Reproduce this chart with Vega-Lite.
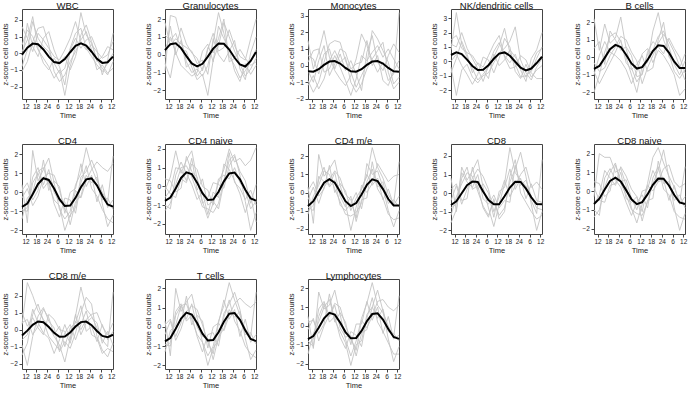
{"$schema":"https://vega.github.io/schema/vega-lite/v6.json","padding":{"left":0,"top":0,"right":0,"bottom":0},"autosize":{"type":"pad"},"config":{"font":"Liberation Sans","view":{"stroke":"#444","strokeWidth":1},"axis":{"grid":false,"domain":false,"tickColor":"#444","tickSize":3,"labelFontSize":6.5,"labelColor":"#222","labelOverlap":false,"titleFontSize":7.5,"titleFontWeight":"normal","titleColor":"#222"}},
"data":{"values":[
{"p":1,"s":0,"t":10,"z":-0.09},{"p":1,"s":0,"t":13,"z":0.33},{"p":1,"s":0,"t":16,"z":0.58},{"p":1,"s":0,"t":19,"z":0.54},{"p":1,"s":0,"t":22,"z":0.23},{"p":1,"s":0,"t":25,"z":-0.2},{"p":1,"s":0,"t":28,"z":-0.53},{"p":1,"s":0,"t":31,"z":-0.59},{"p":1,"s":0,"t":34,"z":-0.35},{"p":1,"s":0,"t":37,"z":0.06},{"p":1,"s":0,"t":40,"z":0.44},{"p":1,"s":0,"t":43,"z":0.6},{"p":1,"s":0,"t":46,"z":0.46},{"p":1,"s":0,"t":49,"z":0.09},{"p":1,"s":0,"t":52,"z":-0.33},{"p":1,"s":0,"t":55,"z":-0.58},{"p":1,"s":0,"t":58,"z":-0.54},{"p":1,"s":0,"t":61,"z":-0.2},
{"p":1,"s":1,"t":10,"z":-0.8},{"p":1,"s":1,"t":13,"z":0.2},{"p":1,"s":1,"t":16,"z":1.9},{"p":1,"s":1,"t":19,"z":0.9},{"p":1,"s":1,"t":22,"z":0.4},{"p":1,"s":1,"t":25,"z":0.1},{"p":1,"s":1,"t":28,"z":-0.6},{"p":1,"s":1,"t":31,"z":-1.2},{"p":1,"s":1,"t":34,"z":-0.9},{"p":1,"s":1,"t":37,"z":0.3},{"p":1,"s":1,"t":40,"z":1.2},{"p":1,"s":1,"t":43,"z":1.5},{"p":1,"s":1,"t":46,"z":0.3},{"p":1,"s":1,"t":49,"z":-0.2},{"p":1,"s":1,"t":52,"z":-0.7},{"p":1,"s":1,"t":55,"z":-1.1},{"p":1,"s":1,"t":58,"z":-0.6},{"p":1,"s":1,"t":61,"z":0.0},
{"p":1,"s":2,"t":10,"z":0.5},{"p":1,"s":2,"t":13,"z":1.4},{"p":1,"s":2,"t":16,"z":1.0},{"p":1,"s":2,"t":19,"z":0.2},{"p":1,"s":2,"t":22,"z":-0.3},{"p":1,"s":2,"t":25,"z":-0.8},{"p":1,"s":2,"t":28,"z":-1.5},{"p":1,"s":2,"t":31,"z":-1.0},{"p":1,"s":2,"t":34,"z":-2.53},{"p":1,"s":2,"t":37,"z":-0.8},{"p":1,"s":2,"t":40,"z":0.4},{"p":1,"s":2,"t":43,"z":2.44},{"p":1,"s":2,"t":46,"z":1.1},{"p":1,"s":2,"t":49,"z":0.6},{"p":1,"s":2,"t":52,"z":-0.4},{"p":1,"s":2,"t":55,"z":-0.9},{"p":1,"s":2,"t":58,"z":-1.3},{"p":1,"s":2,"t":61,"z":-0.5},
{"p":1,"s":3,"t":10,"z":1.6},{"p":1,"s":3,"t":13,"z":0.9},{"p":1,"s":3,"t":16,"z":0.1},{"p":1,"s":3,"t":19,"z":1.2},{"p":1,"s":3,"t":22,"z":0.8},{"p":1,"s":3,"t":25,"z":0.3},{"p":1,"s":3,"t":28,"z":-0.2},{"p":1,"s":3,"t":31,"z":-0.4},{"p":1,"s":3,"t":34,"z":0.2},{"p":1,"s":3,"t":37,"z":0.9},{"p":1,"s":3,"t":40,"z":1.9},{"p":1,"s":3,"t":43,"z":0.7},{"p":1,"s":3,"t":46,"z":0.2},{"p":1,"s":3,"t":49,"z":0.5},{"p":1,"s":3,"t":52,"z":0.1},{"p":1,"s":3,"t":55,"z":-0.3},{"p":1,"s":3,"t":58,"z":-0.1},{"p":1,"s":3,"t":61,"z":0.7},
{"p":1,"s":4,"t":10,"z":-1.1},{"p":1,"s":4,"t":13,"z":-0.5},{"p":1,"s":4,"t":16,"z":0.7},{"p":1,"s":4,"t":19,"z":1.5},{"p":1,"s":4,"t":22,"z":1.6},{"p":1,"s":4,"t":25,"z":0.5},{"p":1,"s":4,"t":28,"z":-1.1},{"p":1,"s":4,"t":31,"z":-1.7},{"p":1,"s":4,"t":34,"z":-1.3},{"p":1,"s":4,"t":37,"z":-0.5},{"p":1,"s":4,"t":40,"z":0.1},{"p":1,"s":4,"t":43,"z":0.8},{"p":1,"s":4,"t":46,"z":1.3},{"p":1,"s":4,"t":49,"z":0.2},{"p":1,"s":4,"t":52,"z":-1.0},{"p":1,"s":4,"t":55,"z":-0.7},{"p":1,"s":4,"t":58,"z":-1.2},{"p":1,"s":4,"t":61,"z":-0.9},
{"p":1,"s":5,"t":10,"z":0.1},{"p":1,"s":5,"t":13,"z":0.8},{"p":1,"s":5,"t":16,"z":2.2},{"p":1,"s":5,"t":19,"z":0.3},{"p":1,"s":5,"t":22,"z":-0.6},{"p":1,"s":5,"t":25,"z":-1.0},{"p":1,"s":5,"t":28,"z":-0.3},{"p":1,"s":5,"t":31,"z":-0.8},{"p":1,"s":5,"t":34,"z":-1.9},{"p":1,"s":5,"t":37,"z":0.2},{"p":1,"s":5,"t":40,"z":0.9},{"p":1,"s":5,"t":43,"z":0.3},{"p":1,"s":5,"t":46,"z":0.8},{"p":1,"s":5,"t":49,"z":1.0},{"p":1,"s":5,"t":52,"z":0.2},{"p":1,"s":5,"t":55,"z":-1.3},{"p":1,"s":5,"t":58,"z":-0.4},{"p":1,"s":5,"t":61,"z":1.2},
{"p":1,"s":6,"t":10,"z":-0.4},{"p":1,"s":6,"t":13,"z":1.8},{"p":1,"s":6,"t":16,"z":0.4},{"p":1,"s":6,"t":19,"z":-0.2},{"p":1,"s":6,"t":22,"z":0.9},{"p":1,"s":6,"t":25,"z":1.3},{"p":1,"s":6,"t":28,"z":0.2},{"p":1,"s":6,"t":31,"z":-0.6},{"p":1,"s":6,"t":34,"z":-0.2},{"p":1,"s":6,"t":37,"z":-1.0},{"p":1,"s":6,"t":40,"z":-0.2},{"p":1,"s":6,"t":43,"z":1.1},{"p":1,"s":6,"t":46,"z":1.7},{"p":1,"s":6,"t":49,"z":0.7},{"p":1,"s":6,"t":52,"z":-0.5},{"p":1,"s":6,"t":55,"z":-0.2},{"p":1,"s":6,"t":58,"z":0.4},{"p":1,"s":6,"t":61,"z":0.2},
{"p":2,"s":0,"t":10,"z":0.26},{"p":2,"s":0,"t":13,"z":0.59},{"p":2,"s":0,"t":16,"z":0.64},{"p":2,"s":0,"t":19,"z":0.37},{"p":2,"s":0,"t":22,"z":-0.08},{"p":2,"s":0,"t":25,"z":-0.49},{"p":2,"s":0,"t":28,"z":-0.66},{"p":2,"s":0,"t":31,"z":-0.51},{"p":2,"s":0,"t":34,"z":-0.11},{"p":2,"s":0,"t":37,"z":0.34},{"p":2,"s":0,"t":40,"z":0.63},{"p":2,"s":0,"t":43,"z":0.61},{"p":2,"s":0,"t":46,"z":0.29},{"p":2,"s":0,"t":49,"z":-0.17},{"p":2,"s":0,"t":52,"z":-0.55},{"p":2,"s":0,"t":55,"z":-0.66},{"p":2,"s":0,"t":58,"z":-0.35},{"p":2,"s":0,"t":61,"z":0.15},
{"p":2,"s":1,"t":10,"z":-0.9},{"p":2,"s":1,"t":13,"z":2.2},{"p":2,"s":1,"t":16,"z":2.1},{"p":2,"s":1,"t":19,"z":0.9},{"p":2,"s":1,"t":22,"z":-0.4},{"p":2,"s":1,"t":25,"z":-1.0},{"p":2,"s":1,"t":28,"z":-0.8},{"p":2,"s":1,"t":31,"z":-1.2},{"p":2,"s":1,"t":34,"z":-0.6},{"p":2,"s":1,"t":37,"z":0.7},{"p":2,"s":1,"t":40,"z":2.36},{"p":2,"s":1,"t":43,"z":1.2},{"p":2,"s":1,"t":46,"z":-0.1},{"p":2,"s":1,"t":49,"z":-0.6},{"p":2,"s":1,"t":52,"z":-1.3},{"p":2,"s":1,"t":55,"z":-0.9},{"p":2,"s":1,"t":58,"z":-0.4},{"p":2,"s":1,"t":61,"z":0.3},
{"p":2,"s":2,"t":10,"z":1.1},{"p":2,"s":2,"t":13,"z":0.8},{"p":2,"s":2,"t":16,"z":1.2},{"p":2,"s":2,"t":19,"z":0.3},{"p":2,"s":2,"t":22,"z":0.2},{"p":2,"s":2,"t":25,"z":-0.7},{"p":2,"s":2,"t":28,"z":-1.4},{"p":2,"s":2,"t":31,"z":-1.1},{"p":2,"s":2,"t":34,"z":-2.28},{"p":2,"s":2,"t":37,"z":-0.3},{"p":2,"s":2,"t":40,"z":0.5},{"p":2,"s":2,"t":43,"z":1.8},{"p":2,"s":2,"t":46,"z":1.0},{"p":2,"s":2,"t":49,"z":0.2},{"p":2,"s":2,"t":52,"z":-0.5},{"p":2,"s":2,"t":55,"z":-1.2},{"p":2,"s":2,"t":58,"z":-0.8},{"p":2,"s":2,"t":61,"z":-0.2},
{"p":2,"s":3,"t":10,"z":-0.5},{"p":2,"s":3,"t":13,"z":-1.3},{"p":2,"s":3,"t":16,"z":0.4},{"p":2,"s":3,"t":19,"z":1.5},{"p":2,"s":3,"t":22,"z":0.6},{"p":2,"s":3,"t":25,"z":0.1},{"p":2,"s":3,"t":28,"z":-0.2},{"p":2,"s":3,"t":31,"z":-0.9},{"p":2,"s":3,"t":34,"z":0.3},{"p":2,"s":3,"t":37,"z":1.2},{"p":2,"s":3,"t":40,"z":0.2},{"p":2,"s":3,"t":43,"z":0.4},{"p":2,"s":3,"t":46,"z":1.4},{"p":2,"s":3,"t":49,"z":0.5},{"p":2,"s":3,"t":52,"z":-0.1},{"p":2,"s":3,"t":55,"z":-0.3},{"p":2,"s":3,"t":58,"z":0.9},{"p":2,"s":3,"t":61,"z":2.0},
{"p":2,"s":4,"t":10,"z":0.3},{"p":2,"s":4,"t":13,"z":1.0},{"p":2,"s":4,"t":16,"z":0.1},{"p":2,"s":4,"t":19,"z":-0.6},{"p":2,"s":4,"t":22,"z":-0.9},{"p":2,"s":4,"t":25,"z":-1.2},{"p":2,"s":4,"t":28,"z":-1.0},{"p":2,"s":4,"t":31,"z":0.2},{"p":2,"s":4,"t":34,"z":0.6},{"p":2,"s":4,"t":37,"z":-0.4},{"p":2,"s":4,"t":40,"z":1.6},{"p":2,"s":4,"t":43,"z":0.9},{"p":2,"s":4,"t":46,"z":0.3},{"p":2,"s":4,"t":49,"z":-0.9},{"p":2,"s":4,"t":52,"z":-1.5},{"p":2,"s":4,"t":55,"z":-0.5},{"p":2,"s":4,"t":58,"z":-1.1},{"p":2,"s":4,"t":61,"z":-0.6},
{"p":2,"s":5,"t":10,"z":1.8},{"p":2,"s":5,"t":13,"z":0.5},{"p":2,"s":5,"t":16,"z":0.9},{"p":2,"s":5,"t":19,"z":0.6},{"p":2,"s":5,"t":22,"z":0.4},{"p":2,"s":5,"t":25,"z":0.2},{"p":2,"s":5,"t":28,"z":-0.5},{"p":2,"s":5,"t":31,"z":-0.3},{"p":2,"s":5,"t":34,"z":-1.1},{"p":2,"s":5,"t":37,"z":0.9},{"p":2,"s":5,"t":40,"z":0.0},{"p":2,"s":5,"t":43,"z":-0.4},{"p":2,"s":5,"t":46,"z":0.2},{"p":2,"s":5,"t":49,"z":0.8},{"p":2,"s":5,"t":52,"z":-0.8},{"p":2,"s":5,"t":55,"z":-1.4},{"p":2,"s":5,"t":58,"z":0.1},{"p":2,"s":5,"t":61,"z":1.0},
{"p":2,"s":6,"t":10,"z":-0.2},{"p":2,"s":6,"t":13,"z":1.6},{"p":2,"s":6,"t":16,"z":0.0},{"p":2,"s":6,"t":19,"z":0.8},{"p":2,"s":6,"t":22,"z":-0.7},{"p":2,"s":6,"t":25,"z":-0.4},{"p":2,"s":6,"t":28,"z":-1.2},{"p":2,"s":6,"t":31,"z":-0.8},{"p":2,"s":6,"t":34,"z":0.4},{"p":2,"s":6,"t":37,"z":0.1},{"p":2,"s":6,"t":40,"z":0.9},{"p":2,"s":6,"t":43,"z":2.0},{"p":2,"s":6,"t":46,"z":-0.4},{"p":2,"s":6,"t":49,"z":-0.2},{"p":2,"s":6,"t":52,"z":0.3},{"p":2,"s":6,"t":55,"z":-0.2},{"p":2,"s":6,"t":58,"z":-0.6},{"p":2,"s":6,"t":61,"z":-0.4},
{"p":3,"s":0,"t":10,"z":-0.34},{"p":3,"s":0,"t":13,"z":-0.37},{"p":3,"s":0,"t":16,"z":-0.22},{"p":3,"s":0,"t":19,"z":0.04},{"p":3,"s":0,"t":22,"z":0.24},{"p":3,"s":0,"t":25,"z":0.27},{"p":3,"s":0,"t":28,"z":0.12},{"p":3,"s":0,"t":31,"z":-0.14},{"p":3,"s":0,"t":34,"z":-0.34},{"p":3,"s":0,"t":37,"z":-0.37},{"p":3,"s":0,"t":40,"z":-0.22},{"p":3,"s":0,"t":43,"z":0.04},{"p":3,"s":0,"t":46,"z":0.24},{"p":3,"s":0,"t":49,"z":0.27},{"p":3,"s":0,"t":52,"z":0.12},{"p":3,"s":0,"t":55,"z":-0.14},{"p":3,"s":0,"t":58,"z":-0.34},{"p":3,"s":0,"t":61,"z":-0.37},
{"p":3,"s":1,"t":10,"z":1.5},{"p":3,"s":1,"t":13,"z":-0.2},{"p":3,"s":1,"t":16,"z":0.8},{"p":3,"s":1,"t":19,"z":2.1},{"p":3,"s":1,"t":22,"z":0.5},{"p":3,"s":1,"t":25,"z":-0.3},{"p":3,"s":1,"t":28,"z":-0.8},{"p":3,"s":1,"t":31,"z":-1.2},{"p":3,"s":1,"t":34,"z":-0.6},{"p":3,"s":1,"t":37,"z":0.4},{"p":3,"s":1,"t":40,"z":1.9},{"p":3,"s":1,"t":43,"z":1.2},{"p":3,"s":1,"t":46,"z":0.3},{"p":3,"s":1,"t":49,"z":-0.4},{"p":3,"s":1,"t":52,"z":0.2},{"p":3,"s":1,"t":55,"z":-0.9},{"p":3,"s":1,"t":58,"z":-0.5},{"p":3,"s":1,"t":61,"z":3.18},
{"p":3,"s":2,"t":10,"z":-0.9},{"p":3,"s":2,"t":13,"z":-1.6},{"p":3,"s":2,"t":16,"z":-1.0},{"p":3,"s":2,"t":19,"z":0.2},{"p":3,"s":2,"t":22,"z":1.3},{"p":3,"s":2,"t":25,"z":1.5},{"p":3,"s":2,"t":28,"z":1.4},{"p":3,"s":2,"t":31,"z":0.3},{"p":3,"s":2,"t":34,"z":-0.4},{"p":3,"s":2,"t":37,"z":-1.3},{"p":3,"s":2,"t":40,"z":-0.6},{"p":3,"s":2,"t":43,"z":0.1},{"p":3,"s":2,"t":46,"z":2.1},{"p":3,"s":2,"t":49,"z":1.6},{"p":3,"s":2,"t":52,"z":0.9},{"p":3,"s":2,"t":55,"z":0.2},{"p":3,"s":2,"t":58,"z":-1.1},{"p":3,"s":2,"t":61,"z":-0.7},
{"p":3,"s":3,"t":10,"z":0.2},{"p":3,"s":3,"t":13,"z":0.9},{"p":3,"s":3,"t":16,"z":1.0},{"p":3,"s":3,"t":19,"z":-0.4},{"p":3,"s":3,"t":22,"z":-0.2},{"p":3,"s":3,"t":25,"z":0.6},{"p":3,"s":3,"t":28,"z":-0.1},{"p":3,"s":3,"t":31,"z":-0.9},{"p":3,"s":3,"t":34,"z":-1.79},{"p":3,"s":3,"t":37,"z":-0.8},{"p":3,"s":3,"t":40,"z":0.6},{"p":3,"s":3,"t":43,"z":0.3},{"p":3,"s":3,"t":46,"z":0.8},{"p":3,"s":3,"t":49,"z":1.2},{"p":3,"s":3,"t":52,"z":0.5},{"p":3,"s":3,"t":55,"z":1.0},{"p":3,"s":3,"t":58,"z":0.4},{"p":3,"s":3,"t":61,"z":-0.2},
{"p":3,"s":4,"t":10,"z":-1.2},{"p":3,"s":4,"t":13,"z":-0.6},{"p":3,"s":4,"t":16,"z":-1.4},{"p":3,"s":4,"t":19,"z":-0.8},{"p":3,"s":4,"t":22,"z":0.3},{"p":3,"s":4,"t":25,"z":0.9},{"p":3,"s":4,"t":28,"z":0.2},{"p":3,"s":4,"t":31,"z":0.5},{"p":3,"s":4,"t":34,"z":-1.0},{"p":3,"s":4,"t":37,"z":-1.6},{"p":3,"s":4,"t":40,"z":-1.1},{"p":3,"s":4,"t":43,"z":-0.2},{"p":3,"s":4,"t":46,"z":0.4},{"p":3,"s":4,"t":49,"z":0.9},{"p":3,"s":4,"t":52,"z":1.4},{"p":3,"s":4,"t":55,"z":-0.4},{"p":3,"s":4,"t":58,"z":-1.4},{"p":3,"s":4,"t":61,"z":-1.0},
{"p":3,"s":5,"t":10,"z":0.6},{"p":3,"s":5,"t":13,"z":0.4},{"p":3,"s":5,"t":16,"z":-0.5},{"p":3,"s":5,"t":19,"z":0.7},{"p":3,"s":5,"t":22,"z":1.0},{"p":3,"s":5,"t":25,"z":-0.2},{"p":3,"s":5,"t":28,"z":0.7},{"p":3,"s":5,"t":31,"z":-0.3},{"p":3,"s":5,"t":34,"z":0.3},{"p":3,"s":5,"t":37,"z":-0.5},{"p":3,"s":5,"t":40,"z":-1.5},{"p":3,"s":5,"t":43,"z":0.8},{"p":3,"s":5,"t":46,"z":1.8},{"p":3,"s":5,"t":49,"z":0.2},{"p":3,"s":5,"t":52,"z":-0.3},{"p":3,"s":5,"t":55,"z":0.6},{"p":3,"s":5,"t":58,"z":1.3},{"p":3,"s":5,"t":61,"z":0.8},
{"p":3,"s":6,"t":10,"z":-0.3},{"p":3,"s":6,"t":13,"z":-1.0},{"p":3,"s":6,"t":16,"z":0.3},{"p":3,"s":6,"t":19,"z":1.2},{"p":3,"s":6,"t":22,"z":-0.6},{"p":3,"s":6,"t":25,"z":0.1},{"p":3,"s":6,"t":28,"z":1.0},{"p":3,"s":6,"t":31,"z":0.8},{"p":3,"s":6,"t":34,"z":-0.2},{"p":3,"s":6,"t":37,"z":0.1},{"p":3,"s":6,"t":40,"z":0.2},{"p":3,"s":6,"t":43,"z":1.5},{"p":3,"s":6,"t":46,"z":0.0},{"p":3,"s":6,"t":49,"z":0.6},{"p":3,"s":6,"t":52,"z":-0.9},{"p":3,"s":6,"t":55,"z":-1.2},{"p":3,"s":6,"t":58,"z":-0.3},{"p":3,"s":6,"t":61,"z":0.3},
{"p":4,"s":0,"t":10,"z":0.44},{"p":4,"s":0,"t":13,"z":0.63},{"p":4,"s":0,"t":16,"z":0.5},{"p":4,"s":0,"t":19,"z":0.12},{"p":4,"s":0,"t":22,"z":-0.32},{"p":4,"s":0,"t":25,"z":-0.6},{"p":4,"s":0,"t":28,"z":-0.58},{"p":4,"s":0,"t":31,"z":-0.27},{"p":4,"s":0,"t":34,"z":0.18},{"p":4,"s":0,"t":37,"z":0.54},{"p":4,"s":0,"t":40,"z":0.62},{"p":4,"s":0,"t":43,"z":0.39},{"p":4,"s":0,"t":46,"z":-0.03},{"p":4,"s":0,"t":49,"z":-0.44},{"p":4,"s":0,"t":52,"z":-0.63},{"p":4,"s":0,"t":55,"z":-0.5},{"p":4,"s":0,"t":58,"z":-0.12},{"p":4,"s":0,"t":61,"z":0.32},
{"p":4,"s":1,"t":10,"z":0.8},{"p":4,"s":1,"t":13,"z":3.39},{"p":4,"s":1,"t":16,"z":1.2},{"p":4,"s":1,"t":19,"z":0.3},{"p":4,"s":1,"t":22,"z":-0.5},{"p":4,"s":1,"t":25,"z":-1.3},{"p":4,"s":1,"t":28,"z":-0.9},{"p":4,"s":1,"t":31,"z":-0.4},{"p":4,"s":1,"t":34,"z":0.3},{"p":4,"s":1,"t":37,"z":1.1},{"p":4,"s":1,"t":40,"z":2.3},{"p":4,"s":1,"t":43,"z":0.6},{"p":4,"s":1,"t":46,"z":-0.2},{"p":4,"s":1,"t":49,"z":-1.1},{"p":4,"s":1,"t":52,"z":-1.0},{"p":4,"s":1,"t":55,"z":-0.7},{"p":4,"s":1,"t":58,"z":0.2},{"p":4,"s":1,"t":61,"z":1.0},
{"p":4,"s":2,"t":10,"z":-0.4},{"p":4,"s":2,"t":13,"z":-2.37},{"p":4,"s":2,"t":16,"z":-0.6},{"p":4,"s":2,"t":19,"z":-0.2},{"p":4,"s":2,"t":22,"z":-1.1},{"p":4,"s":2,"t":25,"z":-1.5},{"p":4,"s":2,"t":28,"z":-1.0},{"p":4,"s":2,"t":31,"z":-0.8},{"p":4,"s":2,"t":34,"z":-0.1},{"p":4,"s":2,"t":37,"z":0.6},{"p":4,"s":2,"t":40,"z":0.9},{"p":4,"s":2,"t":43,"z":1.4},{"p":4,"s":2,"t":46,"z":2.4},{"p":4,"s":2,"t":49,"z":0.1},{"p":4,"s":2,"t":52,"z":-0.8},{"p":4,"s":2,"t":55,"z":-1.3},{"p":4,"s":2,"t":58,"z":-0.4},{"p":4,"s":2,"t":61,"z":0.2},
{"p":4,"s":3,"t":10,"z":1.2},{"p":4,"s":3,"t":13,"z":1.0},{"p":4,"s":3,"t":16,"z":2.0},{"p":4,"s":3,"t":19,"z":0.9},{"p":4,"s":3,"t":22,"z":0.2},{"p":4,"s":3,"t":25,"z":-0.5},{"p":4,"s":3,"t":28,"z":-1.4},{"p":4,"s":3,"t":31,"z":-0.3},{"p":4,"s":3,"t":34,"z":0.7},{"p":4,"s":3,"t":37,"z":1.3},{"p":4,"s":3,"t":40,"z":0.4},{"p":4,"s":3,"t":43,"z":-0.1},{"p":4,"s":3,"t":46,"z":0.5},{"p":4,"s":3,"t":49,"z":-0.6},{"p":4,"s":3,"t":52,"z":-1.4},{"p":4,"s":3,"t":55,"z":0.2},{"p":4,"s":3,"t":58,"z":0.8},{"p":4,"s":3,"t":61,"z":2.0},
{"p":4,"s":4,"t":10,"z":0.0},{"p":4,"s":4,"t":13,"z":0.5},{"p":4,"s":4,"t":16,"z":-0.3},{"p":4,"s":4,"t":19,"z":-0.9},{"p":4,"s":4,"t":22,"z":-1.6},{"p":4,"s":4,"t":25,"z":-0.9},{"p":4,"s":4,"t":28,"z":0.3},{"p":4,"s":4,"t":31,"z":0.1},{"p":4,"s":4,"t":34,"z":-0.8},{"p":4,"s":4,"t":37,"z":0.2},{"p":4,"s":4,"t":40,"z":1.6},{"p":4,"s":4,"t":43,"z":1.0},{"p":4,"s":4,"t":46,"z":-0.7},{"p":4,"s":4,"t":49,"z":-1.2},{"p":4,"s":4,"t":52,"z":-0.2},{"p":4,"s":4,"t":55,"z":-1.1},{"p":4,"s":4,"t":58,"z":-0.6},{"p":4,"s":4,"t":61,"z":-0.3},
{"p":4,"s":5,"t":10,"z":1.5},{"p":4,"s":5,"t":13,"z":1.8},{"p":4,"s":5,"t":16,"z":0.9},{"p":4,"s":5,"t":19,"z":0.6},{"p":4,"s":5,"t":22,"z":0.4},{"p":4,"s":5,"t":25,"z":-0.2},{"p":4,"s":5,"t":28,"z":-0.6},{"p":4,"s":5,"t":31,"z":-1.2},{"p":4,"s":5,"t":34,"z":0.5},{"p":4,"s":5,"t":37,"z":-0.3},{"p":4,"s":5,"t":40,"z":0.1},{"p":4,"s":5,"t":43,"z":0.8},{"p":4,"s":5,"t":46,"z":0.3},{"p":4,"s":5,"t":49,"z":-0.3},{"p":4,"s":5,"t":52,"z":-1.1},{"p":4,"s":5,"t":55,"z":-0.4},{"p":4,"s":5,"t":58,"z":0.6},{"p":4,"s":5,"t":61,"z":0.9},
{"p":4,"s":6,"t":10,"z":-0.8},{"p":4,"s":6,"t":13,"z":0.2},{"p":4,"s":6,"t":16,"z":1.4},{"p":4,"s":6,"t":19,"z":0.5},{"p":4,"s":6,"t":22,"z":-0.8},{"p":4,"s":6,"t":25,"z":-0.1},{"p":4,"s":6,"t":28,"z":-0.4},{"p":4,"s":6,"t":31,"z":0.4},{"p":4,"s":6,"t":34,"z":1.2},{"p":4,"s":6,"t":37,"z":1.8},{"p":4,"s":6,"t":40,"z":0.3},{"p":4,"s":6,"t":43,"z":-0.5},{"p":4,"s":6,"t":46,"z":-0.4},{"p":4,"s":6,"t":49,"z":0.4},{"p":4,"s":6,"t":52,"z":0.1},{"p":4,"s":6,"t":55,"z":-0.8},{"p":4,"s":6,"t":58,"z":-1.2},{"p":4,"s":6,"t":61,"z":-1.2},
{"p":5,"s":0,"t":10,"z":-0.66},{"p":5,"s":0,"t":13,"z":-0.49},{"p":5,"s":0,"t":16,"z":-0.03},{"p":5,"s":0,"t":19,"z":0.46},{"p":5,"s":0,"t":22,"z":0.71},{"p":5,"s":0,"t":25,"z":0.59},{"p":5,"s":0,"t":28,"z":0.15},{"p":5,"s":0,"t":31,"z":-0.35},{"p":5,"s":0,"t":34,"z":-0.64},{"p":5,"s":0,"t":37,"z":-0.56},{"p":5,"s":0,"t":40,"z":-0.15},{"p":5,"s":0,"t":43,"z":0.36},{"p":5,"s":0,"t":46,"z":0.69},{"p":5,"s":0,"t":49,"z":0.65},{"p":5,"s":0,"t":52,"z":0.27},{"p":5,"s":0,"t":55,"z":-0.25},{"p":5,"s":0,"t":58,"z":-0.61},{"p":5,"s":0,"t":61,"z":-0.61},
{"p":5,"s":1,"t":10,"z":2.2},{"p":5,"s":1,"t":13,"z":0.4},{"p":5,"s":1,"t":16,"z":1.9},{"p":5,"s":1,"t":19,"z":0.8},{"p":5,"s":1,"t":22,"z":1.1},{"p":5,"s":1,"t":25,"z":2.3},{"p":5,"s":1,"t":28,"z":0.5},{"p":5,"s":1,"t":31,"z":-0.6},{"p":5,"s":1,"t":34,"z":-1.4},{"p":5,"s":1,"t":37,"z":-0.9},{"p":5,"s":1,"t":40,"z":0.2},{"p":5,"s":1,"t":43,"z":0.4},{"p":5,"s":1,"t":46,"z":1.2},{"p":5,"s":1,"t":49,"z":1.5},{"p":5,"s":1,"t":52,"z":0.6},{"p":5,"s":1,"t":55,"z":-0.4},{"p":5,"s":1,"t":58,"z":-1.0},{"p":5,"s":1,"t":61,"z":-0.2},
{"p":5,"s":2,"t":10,"z":-2.0},{"p":5,"s":2,"t":13,"z":-1.0},{"p":5,"s":2,"t":16,"z":0.3},{"p":5,"s":2,"t":19,"z":1.2},{"p":5,"s":2,"t":22,"z":1.4},{"p":5,"s":2,"t":25,"z":0.9},{"p":5,"s":2,"t":28,"z":0.0},{"p":5,"s":2,"t":31,"z":-1.0},{"p":5,"s":2,"t":34,"z":-2.0},{"p":5,"s":2,"t":37,"z":-0.5},{"p":5,"s":2,"t":40,"z":-0.3},{"p":5,"s":2,"t":43,"z":1.5},{"p":5,"s":2,"t":46,"z":2.55},{"p":5,"s":2,"t":49,"z":1.0},{"p":5,"s":2,"t":52,"z":0.2},{"p":5,"s":2,"t":55,"z":-0.8},{"p":5,"s":2,"t":58,"z":-1.2},{"p":5,"s":2,"t":61,"z":-0.7},
{"p":5,"s":3,"t":10,"z":-0.3},{"p":5,"s":3,"t":13,"z":-0.8},{"p":5,"s":3,"t":16,"z":-0.6},{"p":5,"s":3,"t":19,"z":0.1},{"p":5,"s":3,"t":22,"z":0.6},{"p":5,"s":3,"t":25,"z":1.2},{"p":5,"s":3,"t":28,"z":1.0},{"p":5,"s":3,"t":31,"z":0.3},{"p":5,"s":3,"t":34,"z":-0.2},{"p":5,"s":3,"t":37,"z":-1.5},{"p":5,"s":3,"t":40,"z":-0.6},{"p":5,"s":3,"t":43,"z":0.1},{"p":5,"s":3,"t":46,"z":0.8},{"p":5,"s":3,"t":49,"z":1.3},{"p":5,"s":3,"t":52,"z":0.9},{"p":5,"s":3,"t":55,"z":0.3},{"p":5,"s":3,"t":58,"z":-0.5},{"p":5,"s":3,"t":61,"z":-1.3},
{"p":5,"s":4,"t":10,"z":-1.0},{"p":5,"s":4,"t":13,"z":0.1},{"p":5,"s":4,"t":16,"z":0.9},{"p":5,"s":4,"t":19,"z":0.3},{"p":5,"s":4,"t":22,"z":0.1},{"p":5,"s":4,"t":25,"z":-0.2},{"p":5,"s":4,"t":28,"z":-0.7},{"p":5,"s":4,"t":31,"z":-1.5},{"p":5,"s":4,"t":34,"z":-0.8},{"p":5,"s":4,"t":37,"z":0.2},{"p":5,"s":4,"t":40,"z":0.5},{"p":5,"s":4,"t":43,"z":-0.3},{"p":5,"s":4,"t":46,"z":0.4},{"p":5,"s":4,"t":49,"z":0.1},{"p":5,"s":4,"t":52,"z":-0.4},{"p":5,"s":4,"t":55,"z":-1.0},{"p":5,"s":4,"t":58,"z":-2.17},{"p":5,"s":4,"t":61,"z":-1.8},
{"p":5,"s":5,"t":10,"z":0.5},{"p":5,"s":5,"t":13,"z":0.9},{"p":5,"s":5,"t":16,"z":-0.4},{"p":5,"s":5,"t":19,"z":1.5},{"p":5,"s":5,"t":22,"z":1.0},{"p":5,"s":5,"t":25,"z":0.4},{"p":5,"s":5,"t":28,"z":0.6},{"p":5,"s":5,"t":31,"z":0.1},{"p":5,"s":5,"t":34,"z":-1.1},{"p":5,"s":5,"t":37,"z":-1.0},{"p":5,"s":5,"t":40,"z":0.3},{"p":5,"s":5,"t":43,"z":0.9},{"p":5,"s":5,"t":46,"z":0.6},{"p":5,"s":5,"t":49,"z":0.2},{"p":5,"s":5,"t":52,"z":1.1},{"p":5,"s":5,"t":55,"z":0.5},{"p":5,"s":5,"t":58,"z":0.0},{"p":5,"s":5,"t":61,"z":-0.9},
{"p":5,"s":6,"t":10,"z":-0.8},{"p":5,"s":6,"t":13,"z":-1.5},{"p":5,"s":6,"t":16,"z":-0.9},{"p":5,"s":6,"t":19,"z":-0.3},{"p":5,"s":6,"t":22,"z":0.3},{"p":5,"s":6,"t":25,"z":1.0},{"p":5,"s":6,"t":28,"z":-0.3},{"p":5,"s":6,"t":31,"z":-0.7},{"p":5,"s":6,"t":34,"z":-0.4},{"p":5,"s":6,"t":37,"z":0.1},{"p":5,"s":6,"t":40,"z":-0.8},{"p":5,"s":6,"t":43,"z":-0.6},{"p":5,"s":6,"t":46,"z":1.0},{"p":5,"s":6,"t":49,"z":2.0},{"p":5,"s":6,"t":52,"z":0.0},{"p":5,"s":6,"t":55,"z":-0.3},{"p":5,"s":6,"t":58,"z":-0.6},{"p":5,"s":6,"t":61,"z":0.2},
{"p":6,"s":0,"t":10,"z":-0.76},{"p":6,"s":0,"t":13,"z":-0.59},{"p":6,"s":0,"t":16,"z":-0.1},{"p":6,"s":0,"t":19,"z":0.44},{"p":6,"s":0,"t":22,"z":0.74},{"p":6,"s":0,"t":25,"z":0.65},{"p":6,"s":0,"t":28,"z":0.2},{"p":6,"s":0,"t":31,"z":-0.36},{"p":6,"s":0,"t":34,"z":-0.72},{"p":6,"s":0,"t":37,"z":-0.69},{"p":6,"s":0,"t":40,"z":-0.29},{"p":6,"s":0,"t":43,"z":0.27},{"p":6,"s":0,"t":46,"z":0.68},{"p":6,"s":0,"t":49,"z":0.73},{"p":6,"s":0,"t":52,"z":0.37},{"p":6,"s":0,"t":55,"z":-0.18},{"p":6,"s":0,"t":58,"z":-0.64},{"p":6,"s":0,"t":61,"z":-0.75},
{"p":6,"s":1,"t":10,"z":0.4},{"p":6,"s":1,"t":13,"z":-1.6},{"p":6,"s":1,"t":16,"z":2.2},{"p":6,"s":1,"t":19,"z":0.6},{"p":6,"s":1,"t":22,"z":1.2},{"p":6,"s":1,"t":25,"z":1.8},{"p":6,"s":1,"t":28,"z":0.5},{"p":6,"s":1,"t":31,"z":-0.9},{"p":6,"s":1,"t":34,"z":-1.4},{"p":6,"s":1,"t":37,"z":-1.0},{"p":6,"s":1,"t":40,"z":0.4},{"p":6,"s":1,"t":43,"z":1.0},{"p":6,"s":1,"t":46,"z":2.35},{"p":6,"s":1,"t":49,"z":1.3},{"p":6,"s":1,"t":52,"z":0.6},{"p":6,"s":1,"t":55,"z":0.0},{"p":6,"s":1,"t":58,"z":-0.5},{"p":6,"s":1,"t":61,"z":1.9},
{"p":6,"s":2,"t":10,"z":-1.4},{"p":6,"s":2,"t":13,"z":-0.3},{"p":6,"s":2,"t":16,"z":0.0},{"p":6,"s":2,"t":19,"z":1.1},{"p":6,"s":2,"t":22,"z":1.3},{"p":6,"s":2,"t":25,"z":0.4},{"p":6,"s":2,"t":28,"z":-0.4},{"p":6,"s":2,"t":31,"z":-0.7},{"p":6,"s":2,"t":34,"z":-2.0},{"p":6,"s":2,"t":37,"z":-1.2},{"p":6,"s":2,"t":40,"z":-0.8},{"p":6,"s":2,"t":43,"z":0.8},{"p":6,"s":2,"t":46,"z":1.1},{"p":6,"s":2,"t":49,"z":1.7},{"p":6,"s":2,"t":52,"z":1.0},{"p":6,"s":2,"t":55,"z":-0.6},{"p":6,"s":2,"t":58,"z":-1.8},{"p":6,"s":2,"t":61,"z":-1.2},
{"p":6,"s":3,"t":10,"z":-0.3},{"p":6,"s":3,"t":13,"z":0.2},{"p":6,"s":3,"t":16,"z":-0.7},{"p":6,"s":3,"t":19,"z":-0.2},{"p":6,"s":3,"t":22,"z":0.8},{"p":6,"s":3,"t":25,"z":1.0},{"p":6,"s":3,"t":28,"z":0.9},{"p":6,"s":3,"t":31,"z":0.1},{"p":6,"s":3,"t":34,"z":-0.9},{"p":6,"s":3,"t":37,"z":-1.3},{"p":6,"s":3,"t":40,"z":0.1},{"p":6,"s":3,"t":43,"z":-0.3},{"p":6,"s":3,"t":46,"z":0.6},{"p":6,"s":3,"t":49,"z":1.2},{"p":6,"s":3,"t":52,"z":1.6},{"p":6,"s":3,"t":55,"z":1.3},{"p":6,"s":3,"t":58,"z":1.1},{"p":6,"s":3,"t":61,"z":1.5},
{"p":6,"s":4,"t":10,"z":-0.9},{"p":6,"s":4,"t":13,"z":-1.0},{"p":6,"s":4,"t":16,"z":0.5},{"p":6,"s":4,"t":19,"z":1.0},{"p":6,"s":4,"t":22,"z":0.2},{"p":6,"s":4,"t":25,"z":0.6},{"p":6,"s":4,"t":28,"z":-0.6},{"p":6,"s":4,"t":31,"z":-1.3},{"p":6,"s":4,"t":34,"z":-0.3},{"p":6,"s":4,"t":37,"z":-0.4},{"p":6,"s":4,"t":40,"z":-1.1},{"p":6,"s":4,"t":43,"z":0.5},{"p":6,"s":4,"t":46,"z":1.4},{"p":6,"s":4,"t":49,"z":0.2},{"p":6,"s":4,"t":52,"z":-0.2},{"p":6,"s":4,"t":55,"z":-0.9},{"p":6,"s":4,"t":58,"z":-1.4},{"p":6,"s":4,"t":61,"z":-1.6},
{"p":6,"s":5,"t":10,"z":0.1},{"p":6,"s":5,"t":13,"z":0.5},{"p":6,"s":5,"t":16,"z":-0.4},{"p":6,"s":5,"t":19,"z":0.1},{"p":6,"s":5,"t":22,"z":1.7},{"p":6,"s":5,"t":25,"z":0.1},{"p":6,"s":5,"t":28,"z":0.6},{"p":6,"s":5,"t":31,"z":0.3},{"p":6,"s":5,"t":34,"z":-1.1},{"p":6,"s":5,"t":37,"z":0.0},{"p":6,"s":5,"t":40,"z":0.2},{"p":6,"s":5,"t":43,"z":1.5},{"p":6,"s":5,"t":46,"z":0.3},{"p":6,"s":5,"t":49,"z":0.9},{"p":6,"s":5,"t":52,"z":-0.5},{"p":6,"s":5,"t":55,"z":0.4},{"p":6,"s":5,"t":58,"z":-0.8},{"p":6,"s":5,"t":61,"z":-0.4},
{"p":6,"s":6,"t":10,"z":-1.0},{"p":6,"s":6,"t":13,"z":-0.8},{"p":6,"s":6,"t":16,"z":0.8},{"p":6,"s":6,"t":19,"z":1.3},{"p":6,"s":6,"t":22,"z":0.4},{"p":6,"s":6,"t":25,"z":1.2},{"p":6,"s":6,"t":28,"z":0.0},{"p":6,"s":6,"t":31,"z":-0.5},{"p":6,"s":6,"t":34,"z":-0.5},{"p":6,"s":6,"t":37,"z":-1.7},{"p":6,"s":6,"t":40,"z":-0.5},{"p":6,"s":6,"t":43,"z":-0.2},{"p":6,"s":6,"t":46,"z":0.9},{"p":6,"s":6,"t":49,"z":0.5},{"p":6,"s":6,"t":52,"z":0.8},{"p":6,"s":6,"t":55,"z":-0.4},{"p":6,"s":6,"t":58,"z":-0.3},{"p":6,"s":6,"t":61,"z":-0.9},
{"p":7,"s":0,"t":10,"z":-0.77},{"p":7,"s":0,"t":13,"z":-0.6},{"p":7,"s":0,"t":16,"z":-0.11},{"p":7,"s":0,"t":19,"z":0.45},{"p":7,"s":0,"t":22,"z":0.75},{"p":7,"s":0,"t":25,"z":0.66},{"p":7,"s":0,"t":28,"z":0.2},{"p":7,"s":0,"t":31,"z":-0.36},{"p":7,"s":0,"t":34,"z":-0.73},{"p":7,"s":0,"t":37,"z":-0.7},{"p":7,"s":0,"t":40,"z":-0.29},{"p":7,"s":0,"t":43,"z":0.27},{"p":7,"s":0,"t":46,"z":0.69},{"p":7,"s":0,"t":49,"z":0.74},{"p":7,"s":0,"t":52,"z":0.38},{"p":7,"s":0,"t":55,"z":-0.18},{"p":7,"s":0,"t":58,"z":-0.65},{"p":7,"s":0,"t":61,"z":-0.76},
{"p":7,"s":1,"t":10,"z":-0.2},{"p":7,"s":1,"t":13,"z":0.5},{"p":7,"s":1,"t":16,"z":1.9},{"p":7,"s":1,"t":19,"z":0.7},{"p":7,"s":1,"t":22,"z":1.4},{"p":7,"s":1,"t":25,"z":1.9},{"p":7,"s":1,"t":28,"z":0.4},{"p":7,"s":1,"t":31,"z":-0.8},{"p":7,"s":1,"t":34,"z":-1.7},{"p":7,"s":1,"t":37,"z":-0.9},{"p":7,"s":1,"t":40,"z":0.2},{"p":7,"s":1,"t":43,"z":0.9},{"p":7,"s":1,"t":46,"z":2.0},{"p":7,"s":1,"t":49,"z":1.3},{"p":7,"s":1,"t":52,"z":1.5},{"p":7,"s":1,"t":55,"z":1.1},{"p":7,"s":1,"t":58,"z":1.4},{"p":7,"s":1,"t":61,"z":2.07},
{"p":7,"s":2,"t":10,"z":-1.3},{"p":7,"s":2,"t":13,"z":-0.9},{"p":7,"s":2,"t":16,"z":0.1},{"p":7,"s":2,"t":19,"z":1.0},{"p":7,"s":2,"t":22,"z":1.1},{"p":7,"s":2,"t":25,"z":0.5},{"p":7,"s":2,"t":28,"z":-0.3},{"p":7,"s":2,"t":31,"z":-1.1},{"p":7,"s":2,"t":34,"z":-1.2},{"p":7,"s":2,"t":37,"z":-1.4},{"p":7,"s":2,"t":40,"z":-0.9},{"p":7,"s":2,"t":43,"z":0.3},{"p":7,"s":2,"t":46,"z":1.4},{"p":7,"s":2,"t":49,"z":1.7},{"p":7,"s":2,"t":52,"z":0.6},{"p":7,"s":2,"t":55,"z":-0.8},{"p":7,"s":2,"t":58,"z":-2.35},{"p":7,"s":2,"t":61,"z":-1.4},
{"p":7,"s":3,"t":10,"z":0.0},{"p":7,"s":3,"t":13,"z":-0.4},{"p":7,"s":3,"t":16,"z":-0.6},{"p":7,"s":3,"t":19,"z":0.4},{"p":7,"s":3,"t":22,"z":0.2},{"p":7,"s":3,"t":25,"z":1.2},{"p":7,"s":3,"t":28,"z":0.9},{"p":7,"s":3,"t":31,"z":0.0},{"p":7,"s":3,"t":34,"z":-0.2},{"p":7,"s":3,"t":37,"z":-1.0},{"p":7,"s":3,"t":40,"z":0.4},{"p":7,"s":3,"t":43,"z":0.6},{"p":7,"s":3,"t":46,"z":0.4},{"p":7,"s":3,"t":49,"z":1.0},{"p":7,"s":3,"t":52,"z":0.2},{"p":7,"s":3,"t":55,"z":-0.2},{"p":7,"s":3,"t":58,"z":-1.2},{"p":7,"s":3,"t":61,"z":-0.8},
{"p":7,"s":4,"t":10,"z":-1.0},{"p":7,"s":4,"t":13,"z":-1.2},{"p":7,"s":4,"t":16,"z":0.6},{"p":7,"s":4,"t":19,"z":1.3},{"p":7,"s":4,"t":22,"z":0.7},{"p":7,"s":4,"t":25,"z":0.1},{"p":7,"s":4,"t":28,"z":-0.7},{"p":7,"s":4,"t":31,"z":-0.3},{"p":7,"s":4,"t":34,"z":-1.5},{"p":7,"s":4,"t":37,"z":-0.3},{"p":7,"s":4,"t":40,"z":-0.6},{"p":7,"s":4,"t":43,"z":1.2},{"p":7,"s":4,"t":46,"z":0.9},{"p":7,"s":4,"t":49,"z":0.3},{"p":7,"s":4,"t":52,"z":-0.4},{"p":7,"s":4,"t":55,"z":-1.4},{"p":7,"s":4,"t":58,"z":-0.5},{"p":7,"s":4,"t":61,"z":-1.9},
{"p":7,"s":5,"t":10,"z":0.4},{"p":7,"s":5,"t":13,"z":0.3},{"p":7,"s":5,"t":16,"z":-0.3},{"p":7,"s":5,"t":19,"z":-0.1},{"p":7,"s":5,"t":22,"z":1.6},{"p":7,"s":5,"t":25,"z":0.8},{"p":7,"s":5,"t":28,"z":0.5},{"p":7,"s":5,"t":31,"z":-0.9},{"p":7,"s":5,"t":34,"z":-0.6},{"p":7,"s":5,"t":37,"z":0.2},{"p":7,"s":5,"t":40,"z":0.1},{"p":7,"s":5,"t":43,"z":-0.1},{"p":7,"s":5,"t":46,"z":1.1},{"p":7,"s":5,"t":49,"z":1.6},{"p":7,"s":5,"t":52,"z":0.8},{"p":7,"s":5,"t":55,"z":0.3},{"p":7,"s":5,"t":58,"z":-0.9},{"p":7,"s":5,"t":61,"z":0.1},
{"p":7,"s":6,"t":10,"z":-0.6},{"p":7,"s":6,"t":13,"z":-0.2},{"p":7,"s":6,"t":16,"z":1.0},{"p":7,"s":6,"t":19,"z":0.9},{"p":7,"s":6,"t":22,"z":0.3},{"p":7,"s":6,"t":25,"z":1.5},{"p":7,"s":6,"t":28,"z":-0.2},{"p":7,"s":6,"t":31,"z":0.4},{"p":7,"s":6,"t":34,"z":-1.0},{"p":7,"s":6,"t":37,"z":-0.8},{"p":7,"s":6,"t":40,"z":-1.2},{"p":7,"s":6,"t":43,"z":0.2},{"p":7,"s":6,"t":46,"z":1.8},{"p":7,"s":6,"t":49,"z":0.2},{"p":7,"s":6,"t":52,"z":-0.1},{"p":7,"s":6,"t":55,"z":-0.7},{"p":7,"s":6,"t":58,"z":-0.2},{"p":7,"s":6,"t":61,"z":-1.0},
{"p":8,"s":0,"t":10,"z":-0.74},{"p":8,"s":0,"t":13,"z":-0.48},{"p":8,"s":0,"t":16,"z":0.04},{"p":8,"s":0,"t":19,"z":0.54},{"p":8,"s":0,"t":22,"z":0.74},{"p":8,"s":0,"t":25,"z":0.54},{"p":8,"s":0,"t":28,"z":0.04},{"p":8,"s":0,"t":31,"z":-0.48},{"p":8,"s":0,"t":34,"z":-0.74},{"p":8,"s":0,"t":37,"z":-0.58},{"p":8,"s":0,"t":40,"z":-0.11},{"p":8,"s":0,"t":43,"z":0.42},{"p":8,"s":0,"t":46,"z":0.73},{"p":8,"s":0,"t":49,"z":0.63},{"p":8,"s":0,"t":52,"z":0.19},{"p":8,"s":0,"t":55,"z":-0.36},{"p":8,"s":0,"t":58,"z":-0.71},{"p":8,"s":0,"t":61,"z":-0.72},
{"p":8,"s":1,"t":10,"z":0.3},{"p":8,"s":1,"t":13,"z":-1.7},{"p":8,"s":1,"t":16,"z":2.1},{"p":8,"s":1,"t":19,"z":0.9},{"p":8,"s":1,"t":22,"z":1.3},{"p":8,"s":1,"t":25,"z":1.8},{"p":8,"s":1,"t":28,"z":0.4},{"p":8,"s":1,"t":31,"z":-0.6},{"p":8,"s":1,"t":34,"z":-2.09},{"p":8,"s":1,"t":37,"z":-0.8},{"p":8,"s":1,"t":40,"z":0.2},{"p":8,"s":1,"t":43,"z":0.9},{"p":8,"s":1,"t":46,"z":2.48},{"p":8,"s":1,"t":49,"z":1.4},{"p":8,"s":1,"t":52,"z":0.8},{"p":8,"s":1,"t":55,"z":-0.1},{"p":8,"s":1,"t":58,"z":-0.6},{"p":8,"s":1,"t":61,"z":1.7},
{"p":8,"s":2,"t":10,"z":-1.2},{"p":8,"s":2,"t":13,"z":-0.2},{"p":8,"s":2,"t":16,"z":0.4},{"p":8,"s":2,"t":19,"z":1.2},{"p":8,"s":2,"t":22,"z":1.0},{"p":8,"s":2,"t":25,"z":0.2},{"p":8,"s":2,"t":28,"z":-0.5},{"p":8,"s":2,"t":31,"z":-1.2},{"p":8,"s":2,"t":34,"z":-1.3},{"p":8,"s":2,"t":37,"z":-1.1},{"p":8,"s":2,"t":40,"z":-0.6},{"p":8,"s":2,"t":43,"z":1.6},{"p":8,"s":2,"t":46,"z":1.0},{"p":8,"s":2,"t":49,"z":1.2},{"p":8,"s":2,"t":52,"z":0.3},{"p":8,"s":2,"t":55,"z":-1.0},{"p":8,"s":2,"t":58,"z":-1.9},{"p":8,"s":2,"t":61,"z":-1.0},
{"p":8,"s":3,"t":10,"z":-0.4},{"p":8,"s":3,"t":13,"z":0.3},{"p":8,"s":3,"t":16,"z":-0.6},{"p":8,"s":3,"t":19,"z":0.3},{"p":8,"s":3,"t":22,"z":0.7},{"p":8,"s":3,"t":25,"z":1.2},{"p":8,"s":3,"t":28,"z":0.8},{"p":8,"s":3,"t":31,"z":-0.1},{"p":8,"s":3,"t":34,"z":-0.4},{"p":8,"s":3,"t":37,"z":-1.4},{"p":8,"s":3,"t":40,"z":0.4},{"p":8,"s":3,"t":43,"z":0.0},{"p":8,"s":3,"t":46,"z":0.5},{"p":8,"s":3,"t":49,"z":1.6},{"p":8,"s":3,"t":52,"z":1.1},{"p":8,"s":3,"t":55,"z":0.6},{"p":8,"s":3,"t":58,"z":0.9},{"p":8,"s":3,"t":61,"z":1.0},
{"p":8,"s":4,"t":10,"z":-1.0},{"p":8,"s":4,"t":13,"z":-0.7},{"p":8,"s":4,"t":16,"z":0.7},{"p":8,"s":4,"t":19,"z":1.4},{"p":8,"s":4,"t":22,"z":0.3},{"p":8,"s":4,"t":25,"z":0.7},{"p":8,"s":4,"t":28,"z":-0.7},{"p":8,"s":4,"t":31,"z":-1.0},{"p":8,"s":4,"t":34,"z":-0.6},{"p":8,"s":4,"t":37,"z":0.0},{"p":8,"s":4,"t":40,"z":-0.9},{"p":8,"s":4,"t":43,"z":0.6},{"p":8,"s":4,"t":46,"z":1.3},{"p":8,"s":4,"t":49,"z":0.2},{"p":8,"s":4,"t":52,"z":-0.3},{"p":8,"s":4,"t":55,"z":-1.2},{"p":8,"s":4,"t":58,"z":-1.5},{"p":8,"s":4,"t":61,"z":-1.4},
{"p":8,"s":5,"t":10,"z":0.1},{"p":8,"s":5,"t":13,"z":0.6},{"p":8,"s":5,"t":16,"z":-0.2},{"p":8,"s":5,"t":19,"z":0.2},{"p":8,"s":5,"t":22,"z":1.5},{"p":8,"s":5,"t":25,"z":0.0},{"p":8,"s":5,"t":28,"z":0.5},{"p":8,"s":5,"t":31,"z":0.1},{"p":8,"s":5,"t":34,"z":-1.0},{"p":8,"s":5,"t":37,"z":-0.3},{"p":8,"s":5,"t":40,"z":0.2},{"p":8,"s":5,"t":43,"z":1.0},{"p":8,"s":5,"t":46,"z":0.4},{"p":8,"s":5,"t":49,"z":0.8},{"p":8,"s":5,"t":52,"z":-0.4},{"p":8,"s":5,"t":55,"z":0.2},{"p":8,"s":5,"t":58,"z":-0.7},{"p":8,"s":5,"t":61,"z":-0.2},
{"p":8,"s":6,"t":10,"z":-0.8},{"p":8,"s":6,"t":13,"z":-1.0},{"p":8,"s":6,"t":16,"z":0.9},{"p":8,"s":6,"t":19,"z":0.6},{"p":8,"s":6,"t":22,"z":0.4},{"p":8,"s":6,"t":25,"z":1.1},{"p":8,"s":6,"t":28,"z":-0.2},{"p":8,"s":6,"t":31,"z":-0.8},{"p":8,"s":6,"t":34,"z":-0.2},{"p":8,"s":6,"t":37,"z":-1.6},{"p":8,"s":6,"t":40,"z":-0.4},{"p":8,"s":6,"t":43,"z":-0.3},{"p":8,"s":6,"t":46,"z":1.7},{"p":8,"s":6,"t":49,"z":0.3},{"p":8,"s":6,"t":52,"z":0.6},{"p":8,"s":6,"t":55,"z":-0.6},{"p":8,"s":6,"t":58,"z":-0.4},{"p":8,"s":6,"t":61,"z":-0.8},
{"p":9,"s":0,"t":10,"z":-0.64},{"p":9,"s":0,"t":13,"z":-0.44},{"p":9,"s":0,"t":16,"z":-0.01},{"p":9,"s":0,"t":19,"z":0.43},{"p":9,"s":0,"t":22,"z":0.62},{"p":9,"s":0,"t":25,"z":0.6},{"p":9,"s":0,"t":28,"z":0.09},{"p":9,"s":0,"t":31,"z":-0.37},{"p":9,"s":0,"t":34,"z":-0.6},{"p":9,"s":0,"t":37,"z":-0.6},{"p":9,"s":0,"t":40,"z":-0.17},{"p":9,"s":0,"t":43,"z":0.3},{"p":9,"s":0,"t":46,"z":0.61},{"p":9,"s":0,"t":49,"z":0.6},{"p":9,"s":0,"t":52,"z":0.24},{"p":9,"s":0,"t":55,"z":-0.23},{"p":9,"s":0,"t":58,"z":-0.59},{"p":9,"s":0,"t":61,"z":-0.6},
{"p":9,"s":1,"t":10,"z":0.8},{"p":9,"s":1,"t":13,"z":-1.0},{"p":9,"s":1,"t":16,"z":1.4},{"p":9,"s":1,"t":19,"z":0.7},{"p":9,"s":1,"t":22,"z":1.2},{"p":9,"s":1,"t":25,"z":1.8},{"p":9,"s":1,"t":28,"z":0.3},{"p":9,"s":1,"t":31,"z":-0.8},{"p":9,"s":1,"t":34,"z":-1.8},{"p":9,"s":1,"t":37,"z":-0.6},{"p":9,"s":1,"t":40,"z":0.5},{"p":9,"s":1,"t":43,"z":2.45},{"p":9,"s":1,"t":46,"z":1.1},{"p":9,"s":1,"t":49,"z":0.7},{"p":9,"s":1,"t":52,"z":0.4},{"p":9,"s":1,"t":55,"z":-0.4},{"p":9,"s":1,"t":58,"z":-1.1},{"p":9,"s":1,"t":61,"z":1.8},
{"p":9,"s":2,"t":10,"z":-1.2},{"p":9,"s":2,"t":13,"z":-0.2},{"p":9,"s":2,"t":16,"z":0.5},{"p":9,"s":2,"t":19,"z":1.1},{"p":9,"s":2,"t":22,"z":0.9},{"p":9,"s":2,"t":25,"z":0.1},{"p":9,"s":2,"t":28,"z":-0.7},{"p":9,"s":2,"t":31,"z":-1.2},{"p":9,"s":2,"t":34,"z":-0.4},{"p":9,"s":2,"t":37,"z":-1.2},{"p":9,"s":2,"t":40,"z":-0.8},{"p":9,"s":2,"t":43,"z":0.6},{"p":9,"s":2,"t":46,"z":1.3},{"p":9,"s":2,"t":49,"z":2.2},{"p":9,"s":2,"t":52,"z":0.9},{"p":9,"s":2,"t":55,"z":-0.6},{"p":9,"s":2,"t":58,"z":-2.01},{"p":9,"s":2,"t":61,"z":-1.0},
{"p":9,"s":3,"t":10,"z":-0.4},{"p":9,"s":3,"t":13,"z":0.4},{"p":9,"s":3,"t":16,"z":-0.6},{"p":9,"s":3,"t":19,"z":0.2},{"p":9,"s":3,"t":22,"z":0.8},{"p":9,"s":3,"t":25,"z":1.3},{"p":9,"s":3,"t":28,"z":0.9},{"p":9,"s":3,"t":31,"z":0.2},{"p":9,"s":3,"t":34,"z":-1.0},{"p":9,"s":3,"t":37,"z":-0.2},{"p":9,"s":3,"t":40,"z":0.7},{"p":9,"s":3,"t":43,"z":-0.2},{"p":9,"s":3,"t":46,"z":0.4},{"p":9,"s":3,"t":49,"z":1.0},{"p":9,"s":3,"t":52,"z":1.4},{"p":9,"s":3,"t":55,"z":0.3},{"p":9,"s":3,"t":58,"z":0.6},{"p":9,"s":3,"t":61,"z":0.2},
{"p":9,"s":4,"t":10,"z":-1.6},{"p":9,"s":4,"t":13,"z":-0.9},{"p":9,"s":4,"t":16,"z":0.8},{"p":9,"s":4,"t":19,"z":1.4},{"p":9,"s":4,"t":22,"z":0.2},{"p":9,"s":4,"t":25,"z":0.4},{"p":9,"s":4,"t":28,"z":-0.8},{"p":9,"s":4,"t":31,"z":-1.3},{"p":9,"s":4,"t":34,"z":-0.3},{"p":9,"s":4,"t":37,"z":-1.4},{"p":9,"s":4,"t":40,"z":-1.0},{"p":9,"s":4,"t":43,"z":0.9},{"p":9,"s":4,"t":46,"z":1.8},{"p":9,"s":4,"t":49,"z":0.0},{"p":9,"s":4,"t":52,"z":-0.5},{"p":9,"s":4,"t":55,"z":-1.0},{"p":9,"s":4,"t":58,"z":-1.4},{"p":9,"s":4,"t":61,"z":-1.2},
{"p":9,"s":5,"t":10,"z":0.2},{"p":9,"s":5,"t":13,"z":0.5},{"p":9,"s":5,"t":16,"z":-0.4},{"p":9,"s":5,"t":19,"z":-0.3},{"p":9,"s":5,"t":22,"z":1.4},{"p":9,"s":5,"t":25,"z":0.2},{"p":9,"s":5,"t":28,"z":0.5},{"p":9,"s":5,"t":31,"z":0.0},{"p":9,"s":5,"t":34,"z":-1.3},{"p":9,"s":5,"t":37,"z":0.1},{"p":9,"s":5,"t":40,"z":0.3},{"p":9,"s":5,"t":43,"z":1.3},{"p":9,"s":5,"t":46,"z":0.2},{"p":9,"s":5,"t":49,"z":0.8},{"p":9,"s":5,"t":52,"z":-0.3},{"p":9,"s":5,"t":55,"z":0.5},{"p":9,"s":5,"t":58,"z":-0.4},{"p":9,"s":5,"t":61,"z":-0.5},
{"p":9,"s":6,"t":10,"z":-0.8},{"p":9,"s":6,"t":13,"z":-0.6},{"p":9,"s":6,"t":16,"z":1.1},{"p":9,"s":6,"t":19,"z":0.6},{"p":9,"s":6,"t":22,"z":0.3},{"p":9,"s":6,"t":25,"z":1.0},{"p":9,"s":6,"t":28,"z":-0.3},{"p":9,"s":6,"t":31,"z":-0.6},{"p":9,"s":6,"t":34,"z":-0.1},{"p":9,"s":6,"t":37,"z":-0.8},{"p":9,"s":6,"t":40,"z":-0.4},{"p":9,"s":6,"t":43,"z":-0.5},{"p":9,"s":6,"t":46,"z":1.5},{"p":9,"s":6,"t":49,"z":0.4},{"p":9,"s":6,"t":52,"z":0.7},{"p":9,"s":6,"t":55,"z":-0.2},{"p":9,"s":6,"t":58,"z":-0.8},{"p":9,"s":6,"t":61,"z":-0.9},
{"p":10,"s":0,"t":10,"z":-0.69},{"p":10,"s":0,"t":13,"z":-0.41},{"p":10,"s":0,"t":16,"z":0.08},{"p":10,"s":0,"t":19,"z":0.54},{"p":10,"s":0,"t":22,"z":0.71},{"p":10,"s":0,"t":25,"z":0.51},{"p":10,"s":0,"t":28,"z":0.05},{"p":10,"s":0,"t":31,"z":-0.44},{"p":10,"s":0,"t":34,"z":-0.7},{"p":10,"s":0,"t":37,"z":-0.59},{"p":10,"s":0,"t":40,"z":-0.18},{"p":10,"s":0,"t":43,"z":0.33},{"p":10,"s":0,"t":46,"z":0.67},{"p":10,"s":0,"t":49,"z":0.66},{"p":10,"s":0,"t":52,"z":0.3},{"p":10,"s":0,"t":55,"z":-0.21},{"p":10,"s":0,"t":58,"z":-0.61},{"p":10,"s":0,"t":61,"z":-0.69},
{"p":10,"s":1,"t":10,"z":-0.3},{"p":10,"s":1,"t":13,"z":2.0},{"p":10,"s":1,"t":16,"z":1.8},{"p":10,"s":1,"t":19,"z":1.8},{"p":10,"s":1,"t":22,"z":1.0},{"p":10,"s":1,"t":25,"z":1.2},{"p":10,"s":1,"t":28,"z":0.3},{"p":10,"s":1,"t":31,"z":-0.9},{"p":10,"s":1,"t":34,"z":-1.7},{"p":10,"s":1,"t":37,"z":-0.7},{"p":10,"s":1,"t":40,"z":0.4},{"p":10,"s":1,"t":43,"z":1.8},{"p":10,"s":1,"t":46,"z":2.32},{"p":10,"s":1,"t":49,"z":1.5},{"p":10,"s":1,"t":52,"z":0.8},{"p":10,"s":1,"t":55,"z":0.2},{"p":10,"s":1,"t":58,"z":-0.6},{"p":10,"s":1,"t":61,"z":1.3},
{"p":10,"s":2,"t":10,"z":-1.4},{"p":10,"s":2,"t":13,"z":-1.0},{"p":10,"s":2,"t":16,"z":0.2},{"p":10,"s":2,"t":19,"z":1.0},{"p":10,"s":2,"t":22,"z":1.5},{"p":10,"s":2,"t":25,"z":0.4},{"p":10,"s":2,"t":28,"z":-0.2},{"p":10,"s":2,"t":31,"z":-1.0},{"p":10,"s":2,"t":34,"z":-1.2},{"p":10,"s":2,"t":37,"z":-1.3},{"p":10,"s":2,"t":40,"z":-0.6},{"p":10,"s":2,"t":43,"z":0.4},{"p":10,"s":2,"t":46,"z":1.1},{"p":10,"s":2,"t":49,"z":2.2},{"p":10,"s":2,"t":52,"z":0.7},{"p":10,"s":2,"t":55,"z":-0.9},{"p":10,"s":2,"t":58,"z":-2.1},{"p":10,"s":2,"t":61,"z":-1.2},
{"p":10,"s":3,"t":10,"z":0.2},{"p":10,"s":3,"t":13,"z":-0.5},{"p":10,"s":3,"t":16,"z":-0.6},{"p":10,"s":3,"t":19,"z":0.3},{"p":10,"s":3,"t":22,"z":0.4},{"p":10,"s":3,"t":25,"z":1.3},{"p":10,"s":3,"t":28,"z":0.8},{"p":10,"s":3,"t":31,"z":0.1},{"p":10,"s":3,"t":34,"z":-0.3},{"p":10,"s":3,"t":37,"z":-1.1},{"p":10,"s":3,"t":40,"z":0.3},{"p":10,"s":3,"t":43,"z":0.0},{"p":10,"s":3,"t":46,"z":0.5},{"p":10,"s":3,"t":49,"z":1.2},{"p":10,"s":3,"t":52,"z":1.4},{"p":10,"s":3,"t":55,"z":0.5},{"p":10,"s":3,"t":58,"z":0.2},{"p":10,"s":3,"t":61,"z":0.4},
{"p":10,"s":4,"t":10,"z":-1.0},{"p":10,"s":4,"t":13,"z":-1.3},{"p":10,"s":4,"t":16,"z":0.7},{"p":10,"s":4,"t":19,"z":1.2},{"p":10,"s":4,"t":22,"z":0.6},{"p":10,"s":4,"t":25,"z":0.2},{"p":10,"s":4,"t":28,"z":-0.6},{"p":10,"s":4,"t":31,"z":-1.3},{"p":10,"s":4,"t":34,"z":-0.6},{"p":10,"s":4,"t":37,"z":-0.2},{"p":10,"s":4,"t":40,"z":-0.9},{"p":10,"s":4,"t":43,"z":0.7},{"p":10,"s":4,"t":46,"z":1.3},{"p":10,"s":4,"t":49,"z":0.1},{"p":10,"s":4,"t":52,"z":-0.2},{"p":10,"s":4,"t":55,"z":-1.1},{"p":10,"s":4,"t":58,"z":-1.4},{"p":10,"s":4,"t":61,"z":-1.5},
{"p":10,"s":5,"t":10,"z":0.5},{"p":10,"s":5,"t":13,"z":0.4},{"p":10,"s":5,"t":16,"z":-0.3},{"p":10,"s":5,"t":19,"z":0.0},{"p":10,"s":5,"t":22,"z":1.4},{"p":10,"s":5,"t":25,"z":0.5},{"p":10,"s":5,"t":28,"z":0.6},{"p":10,"s":5,"t":31,"z":-0.4},{"p":10,"s":5,"t":34,"z":-1.0},{"p":10,"s":5,"t":37,"z":0.0},{"p":10,"s":5,"t":40,"z":0.1},{"p":10,"s":5,"t":43,"z":1.1},{"p":10,"s":5,"t":46,"z":0.5},{"p":10,"s":5,"t":49,"z":0.6},{"p":10,"s":5,"t":52,"z":-0.5},{"p":10,"s":5,"t":55,"z":0.3},{"p":10,"s":5,"t":58,"z":-0.7},{"p":10,"s":5,"t":61,"z":-0.3},
{"p":10,"s":6,"t":10,"z":-0.7},{"p":10,"s":6,"t":13,"z":-0.2},{"p":10,"s":6,"t":16,"z":1.1},{"p":10,"s":6,"t":19,"z":0.7},{"p":10,"s":6,"t":22,"z":0.3},{"p":10,"s":6,"t":25,"z":1.0},{"p":10,"s":6,"t":28,"z":-0.4},{"p":10,"s":6,"t":31,"z":-0.6},{"p":10,"s":6,"t":34,"z":-0.3},{"p":10,"s":6,"t":37,"z":-1.6},{"p":10,"s":6,"t":40,"z":-0.5},{"p":10,"s":6,"t":43,"z":-0.4},{"p":10,"s":6,"t":46,"z":1.6},{"p":10,"s":6,"t":49,"z":0.4},{"p":10,"s":6,"t":52,"z":0.5},{"p":10,"s":6,"t":55,"z":-0.5},{"p":10,"s":6,"t":58,"z":-0.2},{"p":10,"s":6,"t":61,"z":-0.9},
{"p":11,"s":0,"t":10,"z":-0.35},{"p":11,"s":0,"t":13,"z":-0.06},{"p":11,"s":0,"t":16,"z":0.28},{"p":11,"s":0,"t":19,"z":0.48},{"p":11,"s":0,"t":22,"z":0.43},{"p":11,"s":0,"t":25,"z":0.15},{"p":11,"s":0,"t":28,"z":-0.19},{"p":11,"s":0,"t":31,"z":-0.42},{"p":11,"s":0,"t":34,"z":-0.41},{"p":11,"s":0,"t":37,"z":-0.17},{"p":11,"s":0,"t":40,"z":0.18},{"p":11,"s":0,"t":43,"z":0.44},{"p":11,"s":0,"t":46,"z":0.47},{"p":11,"s":0,"t":49,"z":0.26},{"p":11,"s":0,"t":52,"z":-0.08},{"p":11,"s":0,"t":55,"z":-0.37},{"p":11,"s":0,"t":58,"z":-0.44},{"p":11,"s":0,"t":61,"z":-0.3},
{"p":11,"s":1,"t":10,"z":0.3},{"p":11,"s":1,"t":13,"z":2.76},{"p":11,"s":1,"t":16,"z":2.0},{"p":11,"s":1,"t":19,"z":1.1},{"p":11,"s":1,"t":22,"z":0.6},{"p":11,"s":1,"t":25,"z":0.2},{"p":11,"s":1,"t":28,"z":-0.4},{"p":11,"s":1,"t":31,"z":-0.9},{"p":11,"s":1,"t":34,"z":-1.9},{"p":11,"s":1,"t":37,"z":-0.5},{"p":11,"s":1,"t":40,"z":0.8},{"p":11,"s":1,"t":43,"z":2.5},{"p":11,"s":1,"t":46,"z":1.2},{"p":11,"s":1,"t":49,"z":0.8},{"p":11,"s":1,"t":52,"z":0.1},{"p":11,"s":1,"t":55,"z":-0.6},{"p":11,"s":1,"t":58,"z":-1.0},{"p":11,"s":1,"t":61,"z":2.2},
{"p":11,"s":2,"t":10,"z":-0.9},{"p":11,"s":2,"t":13,"z":-2.1},{"p":11,"s":2,"t":16,"z":-0.4},{"p":11,"s":2,"t":19,"z":0.8},{"p":11,"s":2,"t":22,"z":1.3},{"p":11,"s":2,"t":25,"z":0.5},{"p":11,"s":2,"t":28,"z":0.1},{"p":11,"s":2,"t":31,"z":-1.3},{"p":11,"s":2,"t":34,"z":-0.7},{"p":11,"s":2,"t":37,"z":-1.1},{"p":11,"s":2,"t":40,"z":-0.2},{"p":11,"s":2,"t":43,"z":1.0},{"p":11,"s":2,"t":46,"z":1.9},{"p":11,"s":2,"t":49,"z":1.5},{"p":11,"s":2,"t":52,"z":-0.4},{"p":11,"s":2,"t":55,"z":-1.2},{"p":11,"s":2,"t":58,"z":-1.6},{"p":11,"s":2,"t":61,"z":-0.8},
{"p":11,"s":3,"t":10,"z":1.0},{"p":11,"s":3,"t":13,"z":0.2},{"p":11,"s":3,"t":16,"z":0.7},{"p":11,"s":3,"t":19,"z":0.1},{"p":11,"s":3,"t":22,"z":-0.3},{"p":11,"s":3,"t":25,"z":0.9},{"p":11,"s":3,"t":28,"z":0.6},{"p":11,"s":3,"t":31,"z":0.0},{"p":11,"s":3,"t":34,"z":-0.1},{"p":11,"s":3,"t":37,"z":-0.8},{"p":11,"s":3,"t":40,"z":0.5},{"p":11,"s":3,"t":43,"z":0.0},{"p":11,"s":3,"t":46,"z":0.6},{"p":11,"s":3,"t":49,"z":0.9},{"p":11,"s":3,"t":52,"z":1.0},{"p":11,"s":3,"t":55,"z":0.2},{"p":11,"s":3,"t":58,"z":-0.3},{"p":11,"s":3,"t":61,"z":0.4},
{"p":11,"s":4,"t":10,"z":-1.5},{"p":11,"s":4,"t":13,"z":-0.8},{"p":11,"s":4,"t":16,"z":0.9},{"p":11,"s":4,"t":19,"z":1.5},{"p":11,"s":4,"t":22,"z":0.5},{"p":11,"s":4,"t":25,"z":-0.4},{"p":11,"s":4,"t":28,"z":-0.8},{"p":11,"s":4,"t":31,"z":-1.2},{"p":11,"s":4,"t":34,"z":-0.2},{"p":11,"s":4,"t":37,"z":0.3},{"p":11,"s":4,"t":40,"z":-0.6},{"p":11,"s":4,"t":43,"z":0.3},{"p":11,"s":4,"t":46,"z":1.1},{"p":11,"s":4,"t":49,"z":-0.3},{"p":11,"s":4,"t":52,"z":-0.5},{"p":11,"s":4,"t":55,"z":-1.4},{"p":11,"s":4,"t":58,"z":-1.1},{"p":11,"s":4,"t":61,"z":-1.3},
{"p":11,"s":5,"t":10,"z":0.4},{"p":11,"s":5,"t":13,"z":0.6},{"p":11,"s":5,"t":16,"z":-0.3},{"p":11,"s":5,"t":19,"z":0.2},{"p":11,"s":5,"t":22,"z":1.2},{"p":11,"s":5,"t":25,"z":0.7},{"p":11,"s":5,"t":28,"z":-0.3},{"p":11,"s":5,"t":31,"z":0.2},{"p":11,"s":5,"t":34,"z":-1.0},{"p":11,"s":5,"t":37,"z":0.1},{"p":11,"s":5,"t":40,"z":0.4},{"p":11,"s":5,"t":43,"z":1.4},{"p":11,"s":5,"t":46,"z":-0.1},{"p":11,"s":5,"t":49,"z":0.2},{"p":11,"s":5,"t":52,"z":-0.7},{"p":11,"s":5,"t":55,"z":0.3},{"p":11,"s":5,"t":58,"z":-0.6},{"p":11,"s":5,"t":61,"z":-0.1},
{"p":11,"s":6,"t":10,"z":-0.6},{"p":11,"s":6,"t":13,"z":-0.3},{"p":11,"s":6,"t":16,"z":1.2},{"p":11,"s":6,"t":19,"z":0.4},{"p":11,"s":6,"t":22,"z":-0.2},{"p":11,"s":6,"t":25,"z":-0.5},{"p":11,"s":6,"t":28,"z":-1.4},{"p":11,"s":6,"t":31,"z":-0.6},{"p":11,"s":6,"t":34,"z":0.3},{"p":11,"s":6,"t":37,"z":-0.6},{"p":11,"s":6,"t":40,"z":0.9},{"p":11,"s":6,"t":43,"z":-0.3},{"p":11,"s":6,"t":46,"z":0.4},{"p":11,"s":6,"t":49,"z":0.7},{"p":11,"s":6,"t":52,"z":0.4},{"p":11,"s":6,"t":55,"z":-0.8},{"p":11,"s":6,"t":58,"z":-0.1},{"p":11,"s":6,"t":61,"z":-0.9},
{"p":12,"s":0,"t":10,"z":-0.75},{"p":12,"s":0,"t":13,"z":-0.58},{"p":12,"s":0,"t":16,"z":-0.1},{"p":12,"s":0,"t":19,"z":0.43},{"p":12,"s":0,"t":22,"z":0.74},{"p":12,"s":0,"t":25,"z":0.64},{"p":12,"s":0,"t":28,"z":0.2},{"p":12,"s":0,"t":31,"z":-0.35},{"p":12,"s":0,"t":34,"z":-0.71},{"p":12,"s":0,"t":37,"z":-0.68},{"p":12,"s":0,"t":40,"z":-0.28},{"p":12,"s":0,"t":43,"z":0.27},{"p":12,"s":0,"t":46,"z":0.68},{"p":12,"s":0,"t":49,"z":0.72},{"p":12,"s":0,"t":52,"z":0.37},{"p":12,"s":0,"t":55,"z":-0.18},{"p":12,"s":0,"t":58,"z":-0.63},{"p":12,"s":0,"t":61,"z":-0.74},
{"p":12,"s":1,"t":10,"z":0.3},{"p":12,"s":1,"t":13,"z":-1.5},{"p":12,"s":1,"t":16,"z":2.0},{"p":12,"s":1,"t":19,"z":0.8},{"p":12,"s":1,"t":22,"z":1.3},{"p":12,"s":1,"t":25,"z":1.7},{"p":12,"s":1,"t":28,"z":0.5},{"p":12,"s":1,"t":31,"z":-0.8},{"p":12,"s":1,"t":34,"z":-1.5},{"p":12,"s":1,"t":37,"z":-1.0},{"p":12,"s":1,"t":40,"z":0.3},{"p":12,"s":1,"t":43,"z":1.1},{"p":12,"s":1,"t":46,"z":2.3},{"p":12,"s":1,"t":49,"z":1.4},{"p":12,"s":1,"t":52,"z":0.6},{"p":12,"s":1,"t":55,"z":-0.1},{"p":12,"s":1,"t":58,"z":-0.5},{"p":12,"s":1,"t":61,"z":1.8},
{"p":12,"s":2,"t":10,"z":-1.3},{"p":12,"s":2,"t":13,"z":-0.2},{"p":12,"s":2,"t":16,"z":0.1},{"p":12,"s":2,"t":19,"z":1.1},{"p":12,"s":2,"t":22,"z":1.2},{"p":12,"s":2,"t":25,"z":0.4},{"p":12,"s":2,"t":28,"z":-0.4},{"p":12,"s":2,"t":31,"z":-0.8},{"p":12,"s":2,"t":34,"z":-2.0},{"p":12,"s":2,"t":37,"z":-1.1},{"p":12,"s":2,"t":40,"z":-0.7},{"p":12,"s":2,"t":43,"z":0.7},{"p":12,"s":2,"t":46,"z":1.2},{"p":12,"s":2,"t":49,"z":1.8},{"p":12,"s":2,"t":52,"z":0.9},{"p":12,"s":2,"t":55,"z":-0.6},{"p":12,"s":2,"t":58,"z":-1.7},{"p":12,"s":2,"t":61,"z":-1.2},
{"p":12,"s":3,"t":10,"z":-0.4},{"p":12,"s":3,"t":13,"z":0.3},{"p":12,"s":3,"t":16,"z":-0.7},{"p":12,"s":3,"t":19,"z":-0.1},{"p":12,"s":3,"t":22,"z":0.8},{"p":12,"s":3,"t":25,"z":1.1},{"p":12,"s":3,"t":28,"z":0.9},{"p":12,"s":3,"t":31,"z":0.1},{"p":12,"s":3,"t":34,"z":-0.8},{"p":12,"s":3,"t":37,"z":-1.4},{"p":12,"s":3,"t":40,"z":0.2},{"p":12,"s":3,"t":43,"z":-0.2},{"p":12,"s":3,"t":46,"z":0.6},{"p":12,"s":3,"t":49,"z":1.2},{"p":12,"s":3,"t":52,"z":1.5},{"p":12,"s":3,"t":55,"z":1.2},{"p":12,"s":3,"t":58,"z":1.0},{"p":12,"s":3,"t":61,"z":1.3},
{"p":12,"s":4,"t":10,"z":-0.9},{"p":12,"s":4,"t":13,"z":-1.0},{"p":12,"s":4,"t":16,"z":0.6},{"p":12,"s":4,"t":19,"z":1.1},{"p":12,"s":4,"t":22,"z":0.3},{"p":12,"s":4,"t":25,"z":0.6},{"p":12,"s":4,"t":28,"z":-0.5},{"p":12,"s":4,"t":31,"z":-1.3},{"p":12,"s":4,"t":34,"z":-0.4},{"p":12,"s":4,"t":37,"z":-0.3},{"p":12,"s":4,"t":40,"z":-1.0},{"p":12,"s":4,"t":43,"z":0.5},{"p":12,"s":4,"t":46,"z":1.4},{"p":12,"s":4,"t":49,"z":0.3},{"p":12,"s":4,"t":52,"z":-0.2},{"p":12,"s":4,"t":55,"z":-1.0},{"p":12,"s":4,"t":58,"z":-1.4},{"p":12,"s":4,"t":61,"z":-1.6},
{"p":12,"s":5,"t":10,"z":0.1},{"p":12,"s":5,"t":13,"z":0.4},{"p":12,"s":5,"t":16,"z":-0.5},{"p":12,"s":5,"t":19,"z":0.2},{"p":12,"s":5,"t":22,"z":1.6},{"p":12,"s":5,"t":25,"z":0.1},{"p":12,"s":5,"t":28,"z":0.6},{"p":12,"s":5,"t":31,"z":0.3},{"p":12,"s":5,"t":34,"z":-1.1},{"p":12,"s":5,"t":37,"z":0.0},{"p":12,"s":5,"t":40,"z":0.2},{"p":12,"s":5,"t":43,"z":1.4},{"p":12,"s":5,"t":46,"z":0.4},{"p":12,"s":5,"t":49,"z":0.9},{"p":12,"s":5,"t":52,"z":-0.5},{"p":12,"s":5,"t":55,"z":0.4},{"p":12,"s":5,"t":58,"z":-0.8},{"p":12,"s":5,"t":61,"z":-0.4},
{"p":12,"s":6,"t":10,"z":-1.1},{"p":12,"s":6,"t":13,"z":-0.8},{"p":12,"s":6,"t":16,"z":0.8},{"p":12,"s":6,"t":19,"z":1.2},{"p":12,"s":6,"t":22,"z":0.4},{"p":12,"s":6,"t":25,"z":1.2},{"p":12,"s":6,"t":28,"z":0.0},{"p":12,"s":6,"t":31,"z":-0.5},{"p":12,"s":6,"t":34,"z":-0.6},{"p":12,"s":6,"t":37,"z":-1.7},{"p":12,"s":6,"t":40,"z":-0.5},{"p":12,"s":6,"t":43,"z":-0.1},{"p":12,"s":6,"t":46,"z":0.9},{"p":12,"s":6,"t":49,"z":0.5},{"p":12,"s":6,"t":52,"z":0.8},{"p":12,"s":6,"t":55,"z":-0.4},{"p":12,"s":6,"t":58,"z":-0.3},{"p":12,"s":6,"t":61,"z":-0.9},
{"p":13,"s":0,"t":10,"z":-0.7},{"p":13,"s":0,"t":13,"z":-0.54},{"p":13,"s":0,"t":16,"z":-0.1},{"p":13,"s":0,"t":19,"z":0.4},{"p":13,"s":0,"t":22,"z":0.69},{"p":13,"s":0,"t":25,"z":0.6},{"p":13,"s":0,"t":28,"z":0.18},{"p":13,"s":0,"t":31,"z":-0.33},{"p":13,"s":0,"t":34,"z":-0.66},{"p":13,"s":0,"t":37,"z":-0.64},{"p":13,"s":0,"t":40,"z":-0.27},{"p":13,"s":0,"t":43,"z":0.25},{"p":13,"s":0,"t":46,"z":0.63},{"p":13,"s":0,"t":49,"z":0.67},{"p":13,"s":0,"t":52,"z":0.34},{"p":13,"s":0,"t":55,"z":-0.17},{"p":13,"s":0,"t":58,"z":-0.59},{"p":13,"s":0,"t":61,"z":-0.69},
{"p":13,"s":1,"t":10,"z":0.5},{"p":13,"s":1,"t":13,"z":-1.2},{"p":13,"s":1,"t":16,"z":1.8},{"p":13,"s":1,"t":19,"z":0.9},{"p":13,"s":1,"t":22,"z":1.1},{"p":13,"s":1,"t":25,"z":1.9},{"p":13,"s":1,"t":28,"z":0.6},{"p":13,"s":1,"t":31,"z":-0.7},{"p":13,"s":1,"t":34,"z":-1.6},{"p":13,"s":1,"t":37,"z":-0.8},{"p":13,"s":1,"t":40,"z":0.4},{"p":13,"s":1,"t":43,"z":1.2},{"p":13,"s":1,"t":46,"z":2.3},{"p":13,"s":1,"t":49,"z":1.1},{"p":13,"s":1,"t":52,"z":0.7},{"p":13,"s":1,"t":55,"z":0.0},{"p":13,"s":1,"t":58,"z":-0.6},{"p":13,"s":1,"t":61,"z":1.6},
{"p":13,"s":2,"t":10,"z":-1.5},{"p":13,"s":2,"t":13,"z":-0.4},{"p":13,"s":2,"t":16,"z":0.2},{"p":13,"s":2,"t":19,"z":1.0},{"p":13,"s":2,"t":22,"z":1.4},{"p":13,"s":2,"t":25,"z":0.3},{"p":13,"s":2,"t":28,"z":-0.3},{"p":13,"s":2,"t":31,"z":-0.9},{"p":13,"s":2,"t":34,"z":-2.1},{"p":13,"s":2,"t":37,"z":-1.0},{"p":13,"s":2,"t":40,"z":-0.8},{"p":13,"s":2,"t":43,"z":0.6},{"p":13,"s":2,"t":46,"z":1.0},{"p":13,"s":2,"t":49,"z":1.9},{"p":13,"s":2,"t":52,"z":0.8},{"p":13,"s":2,"t":55,"z":-0.7},{"p":13,"s":2,"t":58,"z":-1.9},{"p":13,"s":2,"t":61,"z":-1.1},
{"p":13,"s":3,"t":10,"z":-0.2},{"p":13,"s":3,"t":13,"z":0.4},{"p":13,"s":3,"t":16,"z":-0.8},{"p":13,"s":3,"t":19,"z":0.0},{"p":13,"s":3,"t":22,"z":0.6},{"p":13,"s":3,"t":25,"z":1.2},{"p":13,"s":3,"t":28,"z":1.0},{"p":13,"s":3,"t":31,"z":0.0},{"p":13,"s":3,"t":34,"z":-0.7},{"p":13,"s":3,"t":37,"z":-1.3},{"p":13,"s":3,"t":40,"z":0.3},{"p":13,"s":3,"t":43,"z":-0.1},{"p":13,"s":3,"t":46,"z":0.5},{"p":13,"s":3,"t":49,"z":1.3},{"p":13,"s":3,"t":52,"z":1.4},{"p":13,"s":3,"t":55,"z":1.0},{"p":13,"s":3,"t":58,"z":0.8},{"p":13,"s":3,"t":61,"z":1.1},
{"p":13,"s":4,"t":10,"z":-0.8},{"p":13,"s":4,"t":13,"z":-1.1},{"p":13,"s":4,"t":16,"z":0.5},{"p":13,"s":4,"t":19,"z":1.2},{"p":13,"s":4,"t":22,"z":0.2},{"p":13,"s":4,"t":25,"z":0.5},{"p":13,"s":4,"t":28,"z":-0.6},{"p":13,"s":4,"t":31,"z":-1.2},{"p":13,"s":4,"t":34,"z":-0.3},{"p":13,"s":4,"t":37,"z":-0.5},{"p":13,"s":4,"t":40,"z":-1.1},{"p":13,"s":4,"t":43,"z":0.4},{"p":13,"s":4,"t":46,"z":1.5},{"p":13,"s":4,"t":49,"z":0.2},{"p":13,"s":4,"t":52,"z":-0.3},{"p":13,"s":4,"t":55,"z":-0.9},{"p":13,"s":4,"t":58,"z":-1.5},{"p":13,"s":4,"t":61,"z":-1.5},
{"p":13,"s":5,"t":10,"z":0.2},{"p":13,"s":5,"t":13,"z":0.3},{"p":13,"s":5,"t":16,"z":-0.4},{"p":13,"s":5,"t":19,"z":0.1},{"p":13,"s":5,"t":22,"z":1.7},{"p":13,"s":5,"t":25,"z":0.2},{"p":13,"s":5,"t":28,"z":0.7},{"p":13,"s":5,"t":31,"z":0.2},{"p":13,"s":5,"t":34,"z":-1.0},{"p":13,"s":5,"t":37,"z":0.1},{"p":13,"s":5,"t":40,"z":0.1},{"p":13,"s":5,"t":43,"z":1.3},{"p":13,"s":5,"t":46,"z":0.3},{"p":13,"s":5,"t":49,"z":1.0},{"p":13,"s":5,"t":52,"z":-0.4},{"p":13,"s":5,"t":55,"z":0.5},{"p":13,"s":5,"t":58,"z":-0.7},{"p":13,"s":5,"t":61,"z":-0.5},
{"p":13,"s":6,"t":10,"z":-1.0},{"p":13,"s":6,"t":13,"z":-0.7},{"p":13,"s":6,"t":16,"z":0.9},{"p":13,"s":6,"t":19,"z":1.3},{"p":13,"s":6,"t":22,"z":0.5},{"p":13,"s":6,"t":25,"z":1.1},{"p":13,"s":6,"t":28,"z":-0.1},{"p":13,"s":6,"t":31,"z":-0.6},{"p":13,"s":6,"t":34,"z":-0.5},{"p":13,"s":6,"t":37,"z":-1.6},{"p":13,"s":6,"t":40,"z":-0.4},{"p":13,"s":6,"t":43,"z":-0.2},{"p":13,"s":6,"t":46,"z":1.0},{"p":13,"s":6,"t":49,"z":0.4},{"p":13,"s":6,"t":52,"z":0.9},{"p":13,"s":6,"t":55,"z":-0.3},{"p":13,"s":6,"t":58,"z":-0.4},{"p":13,"s":6,"t":61,"z":-0.8}
]},
"columns":5,
"facet":{"field":"p","type":"ordinal","header":{"title":null,"labelExpr":"['WBC','Granulocytes','Monocytes','NK/dendritic cells','B cells','CD4','CD4 naive','CD4 m/e','CD8','CD8 naive','CD8 m/e','T cells','Lymphocytes'][datum.value-1]","labelFontSize":9.5,"labelFontWeight":"normal","labelPadding":-1.5,"labelColor":"#111"}},
"spacing":{"column":25,"row":15},
"resolve":{"scale":{"y":"independent"},"axis":{"x":"independent","y":"independent"}},
"spec":{"width":91,"height":90,"layer":[
{"transform":[{"filter":"datum.s>0"}],"mark":{"type":"line","color":"#c4c4c4","strokeWidth":0.9},"encoding":{"x":{"field":"t","type":"quantitative","scale":{"domain":[10,61],"nice":false},"axis":{"values":[12,18,24,30,36,42,48,54,60],"tickCount":30,"labelExpr":"datum.value%24==0?'24':''+(datum.value%24)","labelOverlap":false,"labelFlush":false,"labelBound":false,"title":"Time","labelPadding":1,"titlePadding":2}},"y":{"field":"z","type":"quantitative","scale":{"zero":false,"nice":false,"padding":3.6},"axis":{"values":[-3,-2,-1,0,1,2,3],"tickCount":30,"format":"d","labelOverlap":false,"labelBound":false,"labelFlush":false,"title":"z-score cell counts","labelPadding":1.5,"minExtent":12,"maxExtent":12,"titlePadding":1}},"detail":{"field":"s"}}},
{"transform":[{"filter":"datum.s==0"}],"mark":{"type":"line","color":"#000","strokeWidth":2},"encoding":{"x":{"field":"t","type":"quantitative"},"y":{"field":"z","type":"quantitative"}}}
]}
}
